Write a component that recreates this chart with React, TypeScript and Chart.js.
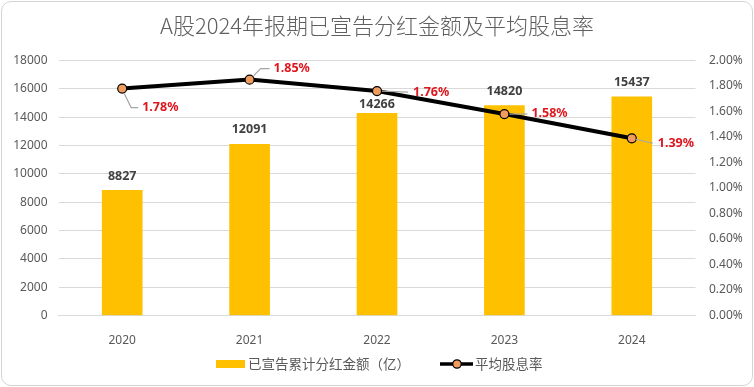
import React, { useEffect, useRef } from "react";
import { Chart, registerables } from "chart.js";

Chart.register(...registerables);

const TITLE = "A股2024年报期已宣告分红金额及平均股息率";
const CATEGORIES = ["2020", "2021", "2022", "2023", "2024"];
const DIVIDEND_AMOUNT = [8827, 12091, 14266, 14820, 15437];
const DIVIDEND_YIELD = [1.78, 1.85, 1.76, 1.58, 1.39];
const BAR_LABEL = "已宣告累计分红金额（亿）";
const LINE_LABEL = "平均股息率";

// label placement styles (offsets relative to each point)
const YIELD_LABEL_OFFSETS = [
  { dx: 20, dy: 19, leader: [[2, 5], [9, 19], [16, 19]] },
  { dx: 24, dy: -11, leader: [[4, -4], [11, -11], [20, -11]] },
  { dx: 36, dy: 1, leader: [[5, 0], [31, 1]] },
  { dx: 27, dy: -1, leader: [[5, 0], [23, 0]] },
  { dx: 26, dy: 5, leader: [[4, 1], [21, 5]] },
];
const BAR_LABEL_GAP = [14.5, 14.5, 9, 14, 14];

const CJK = '"Noto Sans CJK SC", "Noto Sans", sans-serif';
const NUM = '"Noto Sans", "Noto Sans CJK SC", sans-serif';

const labelsPlugin = {
  id: "customLabels",
  afterDatasetsDraw(chart: any) {
    const ctx = chart.ctx;
    ctx.save();
    // bar value labels
    const barMeta = chart.getDatasetMeta(0);
    ctx.font = `bold 12.5px ${NUM}`;
    ctx.fillStyle = "#404040";
    ctx.textAlign = "center";
    ctx.textBaseline = "middle";
    barMeta.data.forEach((el: any, i: number) => {
      ctx.fillText(String(DIVIDEND_AMOUNT[i]), el.x, el.y - BAR_LABEL_GAP[i]);
    });
    // line labels
    const lineMeta = chart.getDatasetMeta(1);
    lineMeta.data.forEach((el: any, i: number) => {
      const o = YIELD_LABEL_OFFSETS[i];
      ctx.strokeStyle = "#a6a6a6";
      ctx.lineWidth = 1.2;
      ctx.beginPath();
      o.leader.forEach((p: number[], k: number) => {
        if (k === 0) ctx.moveTo(el.x + p[0], el.y + p[1]);
        else ctx.lineTo(el.x + p[0], el.y + p[1]);
      });
      ctx.stroke();
      ctx.font = `bold 12.5px ${NUM}`;
      ctx.fillStyle = "#e0161d";
      ctx.textAlign = "left";
      ctx.textBaseline = "middle";
      ctx.fillText(DIVIDEND_YIELD[i].toFixed(2) + "%", el.x + o.dx, el.y + o.dy);
    });
    ctx.restore();
  },
  afterDraw(chart: any) {
    const ctx = chart.ctx;
    ctx.save();
    const cy = 364;
    // bar legend
    ctx.fillStyle = "#ffc000";
    ctx.fillRect(216, cy - 4, 29, 8);
    ctx.font = `13.5px ${CJK}`;
    ctx.fillStyle = "#595959";
    ctx.textAlign = "left";
    ctx.textBaseline = "middle";
    ctx.fillText(BAR_LABEL, 248, cy);
    // line legend
    ctx.strokeStyle = "#000";
    ctx.lineWidth = 3.5;
    ctx.beginPath();
    ctx.moveTo(440, cy);
    ctx.lineTo(473, cy);
    ctx.stroke();
    ctx.beginPath();
    ctx.arc(457, cy, 4.2, 0, Math.PI * 2);
    ctx.fillStyle = "#f19c5f";
    ctx.fill();
    ctx.lineWidth = 1.2;
    ctx.stroke();
    ctx.fillStyle = "#595959";
    ctx.fillText(LINE_LABEL, 475, cy);
    ctx.restore();
  },
};

export default function App() {
  const ref = useRef<HTMLCanvasElement>(null);
  useEffect(() => {
    document.body.style.margin = "0";
    if (!ref.current) return;
    const chart = new Chart(ref.current, {
      type: "bar",
      data: {
        labels: CATEGORIES,
        datasets: [
          {
            type: "bar",
            label: BAR_LABEL,
            data: DIVIDEND_AMOUNT,
            backgroundColor: "#ffc000",
            barThickness: 40,
            yAxisID: "y",
            order: 2,
          } as any,
          {
            type: "line",
            label: LINE_LABEL,
            data: DIVIDEND_YIELD,
            borderColor: "#000000",
            borderWidth: 4,
            pointRadius: 4.5,
            pointBackgroundColor: "#f19c5f",
            pointBorderColor: "#000000",
            pointBorderWidth: 1.2,
            tension: 0,
            yAxisID: "y1",
            order: 1,
          } as any,
        ],
      },
      options: {
        responsive: false,
        animation: false,
        devicePixelRatio: 1,
        layout: { padding: { top: 0, left: 0, right: 0, bottom: 0 } },
        plugins: {
          legend: { display: false },
          tooltip: { enabled: false },
          title: {
            display: true,
            text: TITLE,
            color: "#5f5f5f",
            font: { family: CJK, size: 22, weight: 300 as any, lineHeight: 1.2 },
            padding: { top: 12.8, bottom: 21.3 },
          },
        },
        scales: {
          x: {
            grid: { display: false },
            border: { display: true, color: "#d9d9d9", width: 1 },
            ticks: { color: "#595959", font: { family: NUM, size: 12 }, padding: 10 },
            afterFit: (s: any) => {
              s.height = 71.5;
            },
          },
          y: {
            position: "left",
            min: 0,
            max: 18000,
            ticks: {
              stepSize: 2000,
              color: "#595959",
              font: { family: NUM, size: 12 },
              padding: 11,
              callback: (v: any) => String(v),
            },
            grid: { color: "#d9d9d9", drawTicks: false },
            border: { display: false },
            afterFit: (s: any) => {
              s.width = 58.5;
            },
          },
          y1: {
            position: "right",
            min: 0,
            max: 2,
            ticks: {
              stepSize: 0.2,
              color: "#595959",
              font: { family: NUM, size: 12 },
              padding: 13.5,
              callback: (v: any) => Number(v).toFixed(2) + "%",
            },
            grid: { display: false, drawTicks: false },
            border: { display: false },
            afterFit: (s: any) => {
              s.width = 58.5;
            },
          },
        },
      },
      plugins: [labelsPlugin],
    });
    return () => chart.destroy();
  }, []);

  return (
    <div style={{ position: "fixed", left: 0, top: 0, width: 754, height: 387, background: "#fff" }}>
      <canvas ref={ref} width={754} height={387} style={{ position: "absolute", left: 0, top: 0 }} />
      <div
        style={{
          position: "absolute",
          left: 1,
          top: 1,
          width: 752,
          height: 385,
          boxSizing: "border-box",
          border: "1.5px solid #d4d4d4",
          borderRadius: 10,
          pointerEvents: "none",
        }}
      />
    </div>
  );
}
